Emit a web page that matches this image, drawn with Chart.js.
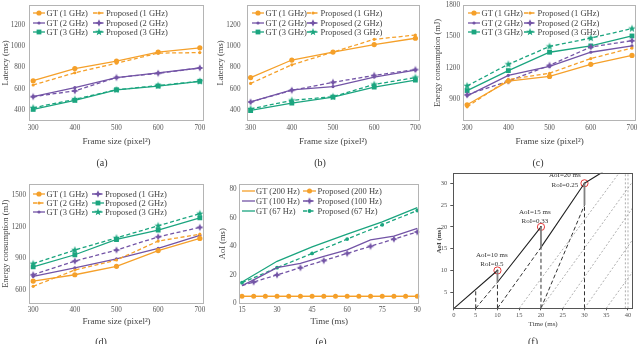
<!DOCTYPE html>
<html><head><meta charset="utf-8">
<script src="https://cdn.jsdelivr.net/npm/chart.js@4.4.1/dist/chart.umd.min.js"></script>
<style>
html,body{margin:0;padding:0;background:#fff;}
body{width:640px;height:344px;overflow:hidden;position:relative;font-family:"Liberation Serif","Times New Roman",serif;}
canvas.c{position:absolute;left:0;top:0;}
.cap{position:absolute;font-size:10px;color:#333;transform:translate(-50%,-50%);white-space:nowrap;}
.lg{position:absolute;height:9px;display:flex;align-items:center;font-size:8.5px;color:#444;white-space:nowrap;}
.lg canvas{display:block;margin-right:1.5px;}
</style></head><body>
<canvas class="c" id="ca" width="640" height="344"></canvas>
<canvas class="c" id="cb" width="640" height="344"></canvas>
<canvas class="c" id="cc" width="640" height="344"></canvas>
<canvas class="c" id="cd" width="640" height="344"></canvas>
<canvas class="c" id="ce" width="640" height="344"></canvas>
<canvas class="c" id="cf" width="640" height="344"></canvas>
<script>
// ---------------- DATA ----------------
const frameSizes = [300, 400, 500, 600, 700];
const frameTicks = [300, 400, 500, 600, 700];
const latencyTicks = [400, 600, 800, 1000, 1200];
// (a)
const aGT1 = [675, 790, 860, 945, 985];
const aPr1 = [635, 750, 840, 935, 940];
const aGT2 = [525, 610, 705, 750, 795];
const aPr2 = [525, 580, 705, 745, 795];
const aGT3 = [405, 490, 590, 625, 670];
const aPr3 = [420, 500, 590, 630, 670];
// (b)
const bGT1 = [705, 870, 945, 1015, 1075];
const bPr1 = [650, 825, 945, 1065, 1105];
const bGT2 = [475, 590, 620, 710, 775];
const bPr2 = [475, 585, 660, 725, 780];
const bGT3 = [395, 465, 520, 615, 680];
const bPr3 = [410, 490, 525, 640, 705];
// (c)
const energyTicksC = [900, 1200, 1500, 1800];
const cGT1 = [850, 1075, 1120, 1235, 1320];
const cPr1 = [830, 1090, 1150, 1290, 1390];
const cGT2 = [935, 1130, 1215, 1350, 1410];
const cPr2 = [945, 1075, 1225, 1400, 1460];
const cGT3 = [985, 1175, 1350, 1410, 1505];
const cPr3 = [1030, 1235, 1405, 1485, 1575];
// (d)
const energyTicksD = [600, 900, 1200, 1500];
const dOrangeSolid = [685, 745, 825, 975, 1090];
const dOrangeDash  = [635, 790, 885, 1065, 1130];
const dPurpleSolid = [730, 810, 895, 995, 1120];
const dPurpleDash  = [745, 875, 980, 1105, 1195];
const dGreenSolid  = [820, 935, 1080, 1170, 1285];
const dGreenDash   = [850, 980, 1095, 1210, 1325];
const freqLabels = ['GT (1 GHz)', 'Proposed (1 GHz)', 'GT (2 GHz)', 'Proposed (2 GHz)', 'GT (3 GHz)', 'Proposed (3 GHz)'];
// (d) legend as printed: orange solid=GT(1), orange dash=GT(2), purple solid=GT(3), purple dash=Prop(1), green solid=Prop(2), green dash=Prop(3)
const dSeriesLabels = ['GT (1 GHz)', 'GT (2 GHz)', 'GT (3 GHz)', 'Proposed (1 GHz)', 'Proposed (2 GHz)', 'Proposed (3 GHz)'];
// (e)
const timeTicks = [15, 30, 45, 60, 75, 90];
const aoiTicks = [0, 20, 40, 60, 80];
const eTime200 = [15, 20, 25, 30, 35, 40, 45, 50, 55, 60, 65, 70, 75, 80, 85, 90];
const ePr200   = [5, 5, 5, 5, 5, 5, 5, 5, 5, 5, 5, 5, 5, 5, 5, 5];
const eTimeGT200 = [15, 90];
const eGT200     = [5, 5];
const eTime100 = [15, 20, 30, 40, 50, 60, 70, 80, 90];
const eGT100   = [12.5, 16.5, 25, 28, 33, 37.5, 44.5, 47, 52.5];
const ePr100   = [12.5, 15, 20, 25, 30, 35, 40, 45, 50];
const eTime67  = [15, 30, 45, 60, 75, 90];
const eGT67    = [15, 29.5, 39.5, 48.5, 57, 67];
const ePr67    = [14.5, 25, 35, 45, 55, 65];
// (f)
const fTimeTicks = [0, 5, 10, 15, 20, 25, 30, 35, 40];
const fAoITicks = [5, 10, 15, 20, 25, 30];
const fSolidSegs = [[[0, 1.33], [10, 10]], [[10, 7.3], [20, 20]], [[20, 15.3], [30, 30]], [[30, 30], [34.2, 32.6]]];
const fDashSegs = [[[5, 1.33], [5, 5.6]], [[5, 1.33], [10, 7.3]], [[10, 1.33], [10, 7.3]], [[10, 1.33], [20, 15.3]],
                   [[20, 1.33], [20, 15.3]], [[20, 1.33], [30, 25]], [[30, 1.33], [30, 25]]];
const fDropSegs = [[[10, 10], [10, 7.3]], [[20, 20], [20, 15.3]], [[30, 30], [30, 25]]];
const fGuideSegs = [[[15, 1.33], [38, 32.43]], [[20, 1.33], [41.15, 30.5]], [[25, 1.33], [41.15, 24.5]],
                    [[30, 1.33], [41.15, 17.2]], [[35, 1.33], [41.15, 9.8]],
                    [[39.4, 1.33], [39.4, 32.43]], [[40, 1.33], [40, 32.43]]];
const fCircleT = [10, 20, 30];
const fCircleA = [10, 20, 30];
const fNoteT = [8.7, 18.6, 25.5];
const fNoteA1 = [13.5, 23.3, 31.9];
const fNoteA2 = [11.4, 21.4, 29.5];
const fNote1 = ['AoI=10 ms', 'AoI=15 ms', 'AoI=20 ms'];
const fNote2 = ['RoI=0.5', 'RoI=0.33', 'RoI=0.25'];

// ---------------- STYLES ----------------
const FONT = '"Liberation Serif","Times New Roman",serif';
const ORANGE = '#F5A02A', PURPLE = '#7354A6', GREEN = '#1BA57F';
const DASH = [4, 2.5];
function starImg(color, n, outer, inner) {
  const size = Math.ceil(outer * 2 + 2);
  const c = document.createElement('canvas'); c.width = c.height = size;
  const g = c.getContext('2d'); g.fillStyle = color; g.beginPath();
  for (let i = 0; i < 2 * n; i++) {
    const r = i % 2 ? inner : outer; const a = -Math.PI / 2 + i * Math.PI / n;
    g.lineTo(size / 2 + r * Math.cos(a), size / 2 + r * Math.sin(a));
  }
  g.closePath(); g.fill(); return c;
}
const ST = {
  o1: {color: ORANGE, dash: [], marker: 'circle', r: 2.6},
  o2: {color: ORANGE, dash: DASH, marker: 'circle', r: 1.6},
  p1: {color: PURPLE, dash: [], marker: 'circle', r: 1.6},
  p2: {color: PURPLE, dash: DASH, marker: 'star4', r: 3.8},
  g1: {color: GREEN, dash: [], marker: 'rect', r: 3.4},
  g2: {color: GREEN, dash: DASH, marker: 'star5', r: 3.9},
  eo: {color: ORANGE, dash: [], marker: 'none', r: 0},
  eoM: {color: ORANGE, dash: [], marker: 'circle', r: 2.5},
  ep: {color: PURPLE, dash: [], marker: 'none', r: 0},
  epM: {color: PURPLE, dash: DASH, marker: 'star4', r: 3.8},
  eg: {color: GREEN, dash: [], marker: 'none', r: 0},
  egM: {color: GREEN, dash: DASH, marker: 'circle', r: 1.9}
};
function pointStyleOf(st) {
  if (st.marker === 'star4') return starImg(st.color, 4, st.r, st.r * 0.42);
  if (st.marker === 'star5') return starImg(st.color, 5, st.r, st.r * 0.42);
  return st.marker === 'none' ? 'circle' : st.marker;
}
function ds(label, xs, ys, st, skipFirst) {
  return {
    label, data: xs.map((x, i) => ({x, y: ys[i]})),
    borderColor: st.color, backgroundColor: st.color, borderWidth: 1.3, borderDash: st.dash,
    pointStyle: pointStyleOf(st),
    pointRadius: skipFirst ? (c => c.dataIndex === 0 ? 0 : (st.r || 0)) : (st.marker === 'none' ? 0 : st.r),
    pointBorderWidth: 0, pointHoverRadius: 0, tension: 0, fill: false
  };
}
function segDs(segs, color, width, dash) {
  const data = [];
  segs.forEach(s => { s.forEach(p => data.push({x: p[0], y: p[1]})); data.push({x: s[1][0], y: null}); });
  return {data, borderColor: color, borderWidth: width, borderDash: dash, pointRadius: 0, spanGaps: false, tension: 0, fill: false};
}

const framePlugin = {
  id: 'frame',
  afterDatasetsDraw(chart, args, opts) {
    const {ctx, chartArea: a} = chart;
    ctx.save(); ctx.strokeStyle = opts.color || '#aaa'; ctx.lineWidth = 1;
    ctx.strokeRect(Math.round(a.left) + 0.5, Math.round(a.top) + 0.5, Math.round(a.right - a.left) - 1, Math.round(a.bottom - a.top) - 1);
    ctx.restore();
  }
};
const notePlugin = {
  id: 'notes',
  afterDatasetsDraw(chart) {
    const {ctx, scales: {x, y}} = chart;
    ctx.save(); ctx.fillStyle = '#333'; ctx.font = '7px ' + FONT; ctx.textAlign = 'center'; ctx.textBaseline = 'middle';
    fNoteT.forEach((t, i) => {
      ctx.fillText(fNote1[i], x.getPixelForValue(t), y.getPixelForValue(fNoteA1[i]));
      ctx.fillText(fNote2[i], x.getPixelForValue(t), y.getPixelForValue(fNoteA2[i]));
    });
    ctx.restore();
  }
};

function panel(id, cfg) {
  const A = cfg.area;
  const tSize = cfg.tickSize || 7.2;
  const tickFont = {family: FONT, size: tSize, lineHeight: 1.2};
  const xtSize = cfg.titleSize || 9;
  const ytSize = cfg.yTitleSize || 8.5;
  const titleLH = ytSize * 1.2;
  const marks = cfg.tickMarks;
  return new Chart(document.getElementById(id), {
    type: 'line',
    data: {datasets: cfg.datasets},
    options: {
      responsive: false, animation: false, events: [],
      layout: {padding: {left: cfg.panelLeft, top: A.t, right: 640 - A.r, bottom: 344 - cfg.panelBottom}},
      plugins: {legend: {display: false}, tooltip: {enabled: false}, frame: {color: cfg.frameColor || '#b4b4b4'}},
      scales: {
        x: {
          type: 'linear', min: cfg.xMin, max: cfg.xMax,
          afterBuildTicks: s => { s.ticks = cfg.xTicks.map(v => ({value: v})); },
          afterFit: s => { s.height = cfg.panelBottom - A.b; s.paddingLeft = 0; s.paddingRight = 0; },
          grid: marks ? {display: true, drawOnChartArea: false, drawTicks: true, tickLength: 2, color: '#555'} : {display: false, drawTicks: false},
          border: {display: false},
          ticks: {autoSkip: false, maxRotation: 0, padding: cfg.xPad, color: '#555', font: tickFont, callback: v => String(v)},
          title: {display: true, text: cfg.xTitle, color: '#444', padding: 0, font: {family: FONT, size: xtSize, lineHeight: 1.2}}
        },
        y: {
          type: 'linear', min: cfg.yMin, max: cfg.yMax,
          afterBuildTicks: s => { s.ticks = cfg.yTicks.map(v => ({value: v})); },
          afterFit: s => { s.width = A.l - cfg.panelLeft; s.paddingTop = 0; s.paddingBottom = 0; },
          grid: marks ? {display: true, drawOnChartArea: false, drawTicks: true, tickLength: 3, color: '#555'} : {display: false, drawTicks: false},
          border: {display: false},
          ticks: {autoSkip: false, padding: cfg.yPad, color: '#555', font: tickFont, callback: v => String(v)},
          title: {display: true, text: cfg.yTitle, color: '#444',
                  font: {family: FONT, size: ytSize, lineHeight: 1.2, weight: cfg.yBold ? 'bold' : 'normal'},
                  padding: {top: cfg.yTitleX - cfg.panelLeft - titleLH / 2, bottom: 0}}
        }
      }
    },
    plugins: [framePlugin].concat(cfg.extraPlugins || [])
  });
}

// ---------------- PANELS ----------------
const latencyDatasets = (g1, p1, g2, p2, g3, p3) => [
  ds(freqLabels[0], frameSizes, g1, ST.o1), ds(freqLabels[1], frameSizes, p1, ST.o2),
  ds(freqLabels[2], frameSizes, g2, ST.p1), ds(freqLabels[3], frameSizes, p2, ST.p2),
  ds(freqLabels[4], frameSizes, g3, ST.g1), ds(freqLabels[5], frameSizes, p3, ST.g2)
];
panel('ca', {area: {l: 29, t: 5, r: 204, b: 121}, panelLeft: 0, panelBottom: 147,
  xMin: 290, xMax: 710, xTicks: frameTicks, yMin: 296, yMax: 1388, yTicks: latencyTicks,
  xTitle: 'Frame size (pixel²)', yTitle: 'Latency (ms)', yTitleX: 5.5, xPad: 2.4, yPad: 4,
  datasets: latencyDatasets(aGT1, aPr1, aGT2, aPr2, aGT3, aPr3)});
panel('cb', {area: {l: 246.5, t: 5, r: 419.5, b: 121}, panelLeft: 210, panelBottom: 147,
  xMin: 290, xMax: 710, xTicks: frameTicks, yMin: 296, yMax: 1388, yTicks: latencyTicks,
  xTitle: 'Frame size (pixel²)', yTitle: 'Latency (ms)', yTitleX: 220.5, xPad: 2.4, yPad: 6,
  datasets: latencyDatasets(bGT1, bPr1, bGT2, bPr2, bGT3, bPr3)});
panel('cc', {area: {l: 463, t: 5, r: 639, b: 121}, panelLeft: 424, panelBottom: 147,
  xMin: 290, xMax: 710, xTicks: frameTicks, yMin: 695, yMax: 1800, yTicks: energyTicksC,
  xTitle: 'Frame size (pixel²)', yTitle: 'Energy consumption (mJ)', yTitleX: 437.5, xPad: 2.4, yPad: 3,
  datasets: latencyDatasets(cGT1, cPr1, cGT2, cPr2, cGT3, cPr3)});
panel('cd', {area: {l: 29, t: 184, r: 204, b: 303.5}, panelLeft: 0, panelBottom: 327,
  xMin: 290, xMax: 710, xTicks: frameTicks, yMin: 472, yMax: 1607, yTicks: energyTicksD,
  xTitle: 'Frame size (pixel²)', yTitle: 'Energy consumption (mJ)', yTitleX: 5.5, xPad: 2.2, yPad: 3,
  datasets: [
    ds(dSeriesLabels[0], frameSizes, dOrangeSolid, ST.o1), ds(dSeriesLabels[1], frameSizes, dOrangeDash, ST.o2),
    ds(dSeriesLabels[2], frameSizes, dPurpleSolid, ST.p1), ds(dSeriesLabels[3], frameSizes, dPurpleDash, ST.p2),
    ds(dSeriesLabels[4], frameSizes, dGreenSolid, ST.g1), ds(dSeriesLabels[5], frameSizes, dGreenDash, ST.g2)
  ]});
panel('ce', {area: {l: 239.3, t: 184, r: 419.3, b: 303.5}, panelLeft: 210, panelBottom: 327,
  xMin: 13.85, xMax: 90.86, xTicks: timeTicks, yMin: 0, yMax: 83.5, yTicks: aoiTicks,
  xTitle: 'Time (ms)', yTitle: 'AoI (ms)', yTitleX: 222.5, xPad: 2.2, yPad: 2.6,
  datasets: [
    ds('GT (200 Hz)', eTimeGT200, eGT200, ST.eo), ds('Proposed (200 Hz)', eTime200, ePr200, ST.eoM),
    ds('GT (100 Hz)', eTime100, eGT100, ST.ep), ds('Proposed (100 Hz)', eTime100, ePr100, ST.epM, true),
    ds('GT (67 Hz)', eTime67, eGT67, ST.eg), ds('Proposed (67 Hz)', eTime67, ePr67, ST.egM)
  ]});
panel('cf', {area: {l: 453.3, t: 172.7, r: 633, b: 308.3}, panelLeft: 424, panelBottom: 328.2,
  xMin: -0.15, xMax: 41.15, xTicks: fTimeTicks, yMin: 1.33, yMax: 32.43, yTicks: fAoITicks,
  xTitle: 'Time (ms)', yTitle: 'AoI (ms)', yTitleX: 439, xPad: 1, yPad: 3, tickSize: 6.5, titleSize: 7, yTitleSize: 7, yBold: true,
  tickMarks: true, frameColor: '#555', extraPlugins: [notePlugin],
  datasets: [
    segDs(fGuideSegs, '#9a9a9a', 0.8, [2, 2]),
    segDs(fDashSegs, '#333', 1, [4, 2.5]),
    segDs(fDropSegs, '#808080', 1.8, []),
    segDs(fSolidSegs, '#222', 1.1, []),
    {data: fCircleT.map((t, i) => ({x: t, y: fCircleA[i]})), showLine: false, pointStyle: 'circle', pointRadius: 3.6,
     pointBorderColor: '#e23a3a', pointBackgroundColor: 'rgba(0,0,0,0)', pointBorderWidth: 1},
    {data: fCircleT.map((t, i) => ({x: t, y: fCircleA[i]})), showLine: false, pointStyle: 'circle', pointRadius: 0.9,
     pointBorderWidth: 0, pointBackgroundColor: '#222'}
  ]});

// ---------------- LEGENDS & CAPTIONS (HTML text) ----------------
function swatch(st, w) {
  const c = document.createElement('canvas'); c.width = w; c.height = 8;
  const g = c.getContext('2d');
  g.strokeStyle = st.color; g.lineWidth = 1.3; g.setLineDash(st.dash);
  g.beginPath(); g.moveTo(0, 4); g.lineTo(w, 4); g.stroke();
  g.fillStyle = st.color;
  if (st.marker === 'circle') { g.beginPath(); g.arc(w / 2, 4, st.r, 0, 2 * Math.PI); g.fill(); }
  else if (st.marker === 'rect') { const s = st.r * Math.SQRT1_2; g.fillRect(w / 2 - s, 4 - s, 2 * s, 2 * s); }
  else if (st.marker === 'star4' || st.marker === 'star5') { const im = pointStyleOf(st); g.drawImage(im, w / 2 - im.width / 2, 4 - im.height / 2); }
  return c;
}
function legend(cols, rows, items, w) {
  items.forEach((row, r) => row.forEach((it, k) => {
    const d = document.createElement('div'); d.className = 'lg';
    d.style.left = cols[k] + 'px'; d.style.top = (rows[r] - 4.5) + 'px';
    d.appendChild(swatch(it[1], w));
    const s = document.createElement('span'); s.textContent = it[0]; d.appendChild(s);
    document.body.appendChild(d);
  }));
}
const freqItems = [[[freqLabels[0], ST.o1], [freqLabels[1], ST.o2]], [[freqLabels[2], ST.p1], [freqLabels[3], ST.p2]], [[freqLabels[4], ST.g1], [freqLabels[5], ST.g2]]];
legend([33, 92.5], [13.3, 23.3, 32.3], freqItems, 12);
legend([252, 307], [13.3, 23.3, 32.3], freqItems, 12);
legend([468, 524], [13.3, 23.3, 32.3], freqItems, 12);
legend([33, 91.5], [194, 203.3, 212.3], [[[dSeriesLabels[0], ST.o1], [dSeriesLabels[3], ST.p2]], [[dSeriesLabels[1], ST.o2], [dSeriesLabels[4], ST.g1]], [[dSeriesLabels[2], ST.p1], [dSeriesLabels[5], ST.g2]]], 12);
legend([241.5, 303], [190.7, 200.7, 210.7], [[['GT (200 Hz)', ST.eo], ['Proposed (200 Hz)', ST.eoM]], [['GT (100 Hz)', ST.ep], ['Proposed (100 Hz)', ST.epM]], [['GT (67 Hz)', ST.eg], ['Proposed (67 Hz)', ST.egM]]], 13);

const capText = ['(a)', '(b)', '(c)', '(d)', '(e)', '(f)'];
const capX = [102, 320, 538, 101, 321, 533];
const capY = [161.7, 161.7, 161.7, 340.5, 340.5, 340.5];
capText.forEach((t, i) => {
  const d = document.createElement('div'); d.className = 'cap'; d.textContent = t;
  d.style.left = capX[i] + 'px'; d.style.top = capY[i] + 'px'; document.body.appendChild(d);
});
</script>
</body></html>
